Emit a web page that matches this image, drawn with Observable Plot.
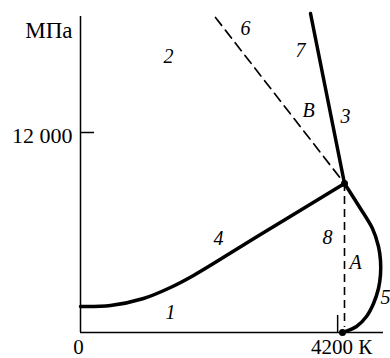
<!DOCTYPE html>
<html>
<head>
<meta charset="utf-8">
<script src="https://cdn.jsdelivr.net/npm/d3@7"></script>
<script src="https://cdn.jsdelivr.net/npm/@observablehq/plot@0.6"></script>
<style>
  html, body { margin: 0; padding: 0; background: #fff; }
  #chart svg { display: block; overflow: visible; }
</style>
</head>
<body>
<div id="chart"></div>
<script>
// Phase diagram of carbon: temperature (K) vs pressure (MPa)

// Axis ticks
const xTicks = [0, 4200];
const xTickLabels = ["0", "4200 К"];
const yTicks = [12000];
const yTickLabels = ["12 000"];
const yUnit = "МПа";

// Triple point and melting point at the foot of curve 5
const tripleT = 4312, tripleP = 8940;
const footT = 4279, footP = 0;

// Curve 1–4 (graphite boundary up to the triple point)
const line14T = [0, 490, 1029, 1470, 1846, 2940, tripleT];
const line14P = [1560, 1620, 2040, 2700, 3420, 5880, tripleP];

// Curve 3–7 (steep boundary rising from the triple point)
const line37T = [tripleT, 3757];
const line37P = [tripleP, 19140];

// Curve 5 (melting curve bulging to the right)
const line5T = [tripleT, 4541, 4769, 4867, 4900, 4900, 4867, 4786, 4671, 4508, footT];
const line5P = [tripleP, 7620, 6240, 5160, 4320, 3480, 2640, 1740, 960, 360, footP];

// Dashed line 6 (metastable extension)
const line6T = [2205, tripleT];
const line6P = [18900, tripleP];

// Region and curve labels
const labelNames = ["1", "2", "3", "4", "5", "6", "7", "8", "A", "B"];
const labelT = [1470, 1437, 4328, 2254, 4982, 2695, 3593, 4034, 4492, 3724];
const labelP = [1200, 16560, 12960, 5640, 2100, 18240, 16920, 5700, 4200, 13320];

const font = "'Liberation Serif', 'Times New Roman', serif";

const chart = Plot.plot({
  width: 390,
  height: 358,
  marginLeft: 80,
  marginRight: 10,
  marginTop: 0,
  marginBottom: 26,
  x: { domain: [0, 4900], axis: null },
  y: { domain: [0, 19920], axis: null },
  style: { fontFamily: font, background: "#fff", color: "#000" },
  marks: [
    // axes
    Plot.ruleX([0], { y1: 0, y2: 18960, stroke: "#000", strokeWidth: 1.5 }),
    Plot.ruleY([0], { x1: 0, x2: 4949, stroke: "#000", strokeWidth: 1.5 }),
    // tick marks pointing inward
    Plot.ruleY(yTicks, { x1: 0, x2: 229, stroke: "#000", strokeWidth: 1.5 }),
    Plot.ruleX([xTicks[1]], { y1: 0, y2: 1020, stroke: "#000", strokeWidth: 1.5 }),
    // tick labels
    Plot.text(yTicks, { x: 0, y: d => d, text: yTickLabels, textAnchor: "end", dx: -8, dy: 3, fontSize: 22 }),
    Plot.text([yUnit], { x: 0, y: 18120, text: d => d, textAnchor: "end", dx: -8, fontSize: 23 }),
    Plot.text([xTicks[0]], { x: d => d, y: 0, text: [xTickLabels[0]], dx: -2, dy: 15, fontSize: 21 }),
    Plot.text([xTicks[1]], { x: d => d, y: 0, text: [xTickLabels[1]], dx: 4, dy: 15, fontSize: 21 }),
    // dashed lines 6 and 8
    Plot.line(line6T, { x: line6T, y: line6P, stroke: "#000", strokeWidth: 1.7, strokeDasharray: "10,6" }),
    Plot.ruleX([tripleT], { y1: tripleP, y2: 300, stroke: "#000", strokeWidth: 1.6, strokeDasharray: "8,5" }),
    // solid boundaries
    Plot.line(line14T, { x: line14T, y: line14P, curve: "catmull-rom", stroke: "#000", strokeWidth: 3.5 }),
    Plot.line(line37T, { x: line37T, y: line37P, stroke: "#000", strokeWidth: 3.5 }),
    Plot.line(line5T, { x: line5T, y: line5P, curve: "catmull-rom", stroke: "#000", strokeWidth: 3.5 }),
    // points
    Plot.dot([0, 1], { x: [tripleT, footT], y: [tripleP, footP], r: 3.5, fill: "#000" }),
    // labels
    Plot.text(labelNames, { x: labelT, y: labelP, text: labelNames, fontStyle: "italic", fontSize: 20 })
  ]
});

document.getElementById("chart").appendChild(chart);
</script>
</body>
</html>
